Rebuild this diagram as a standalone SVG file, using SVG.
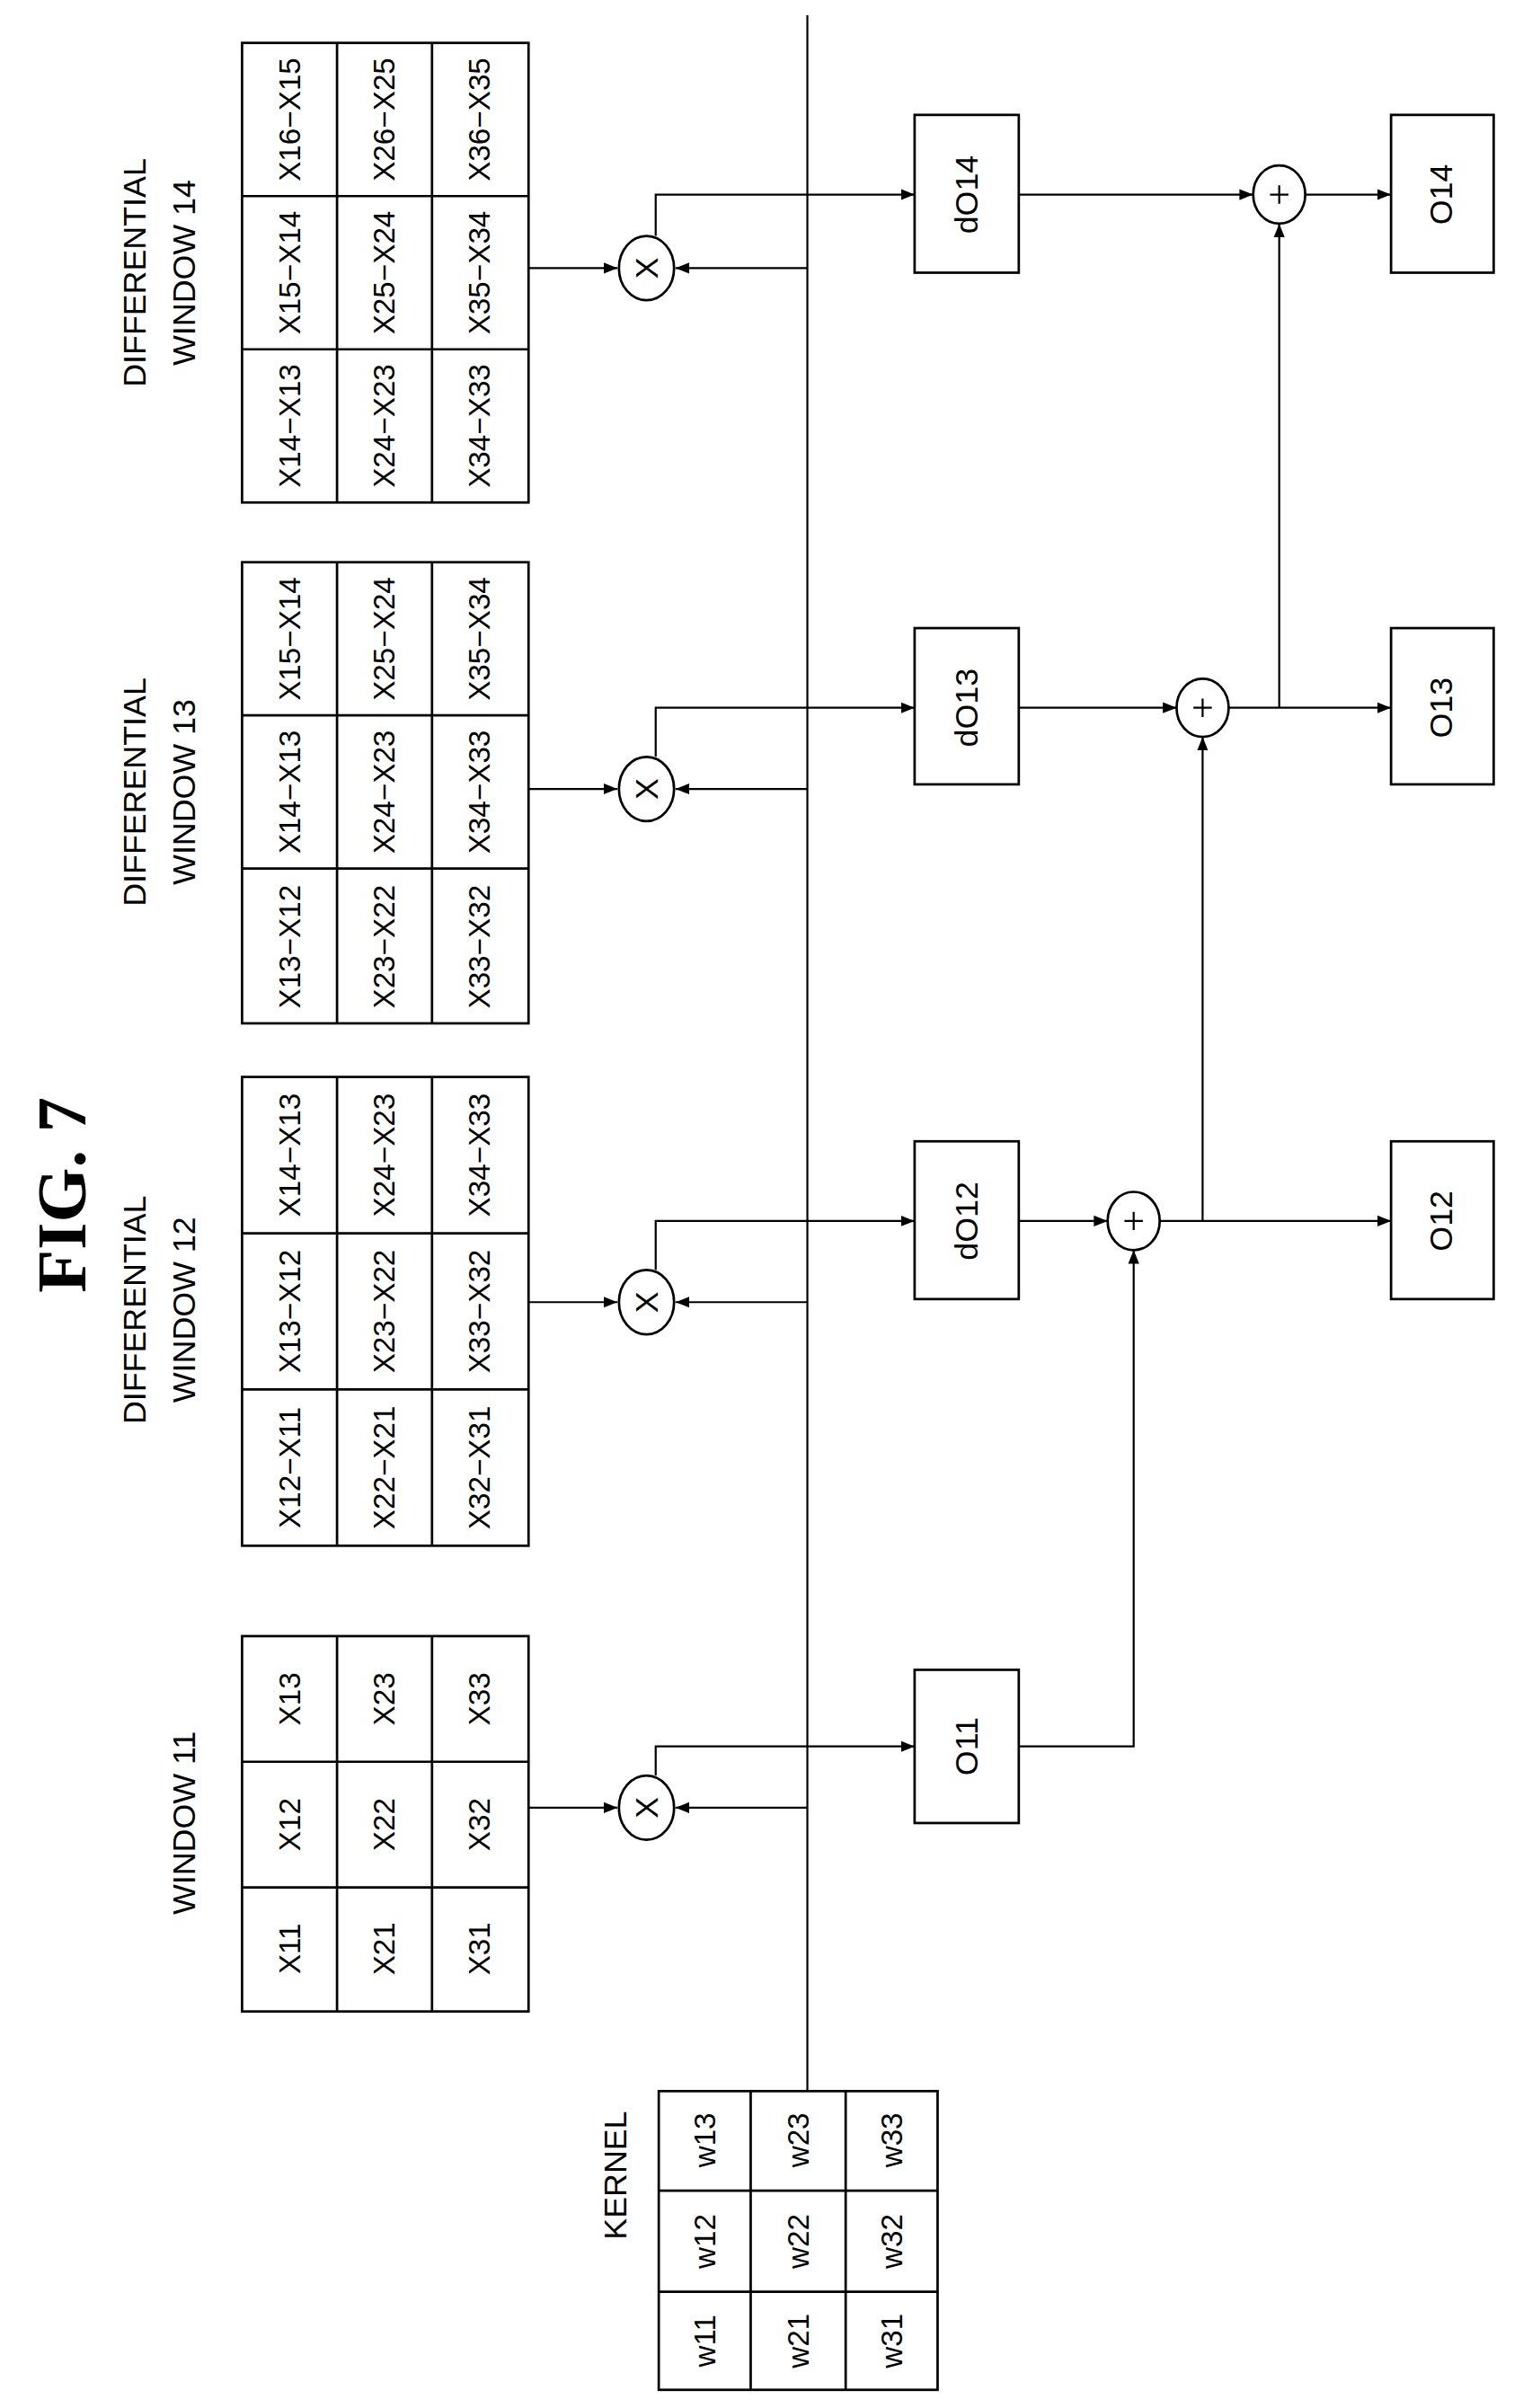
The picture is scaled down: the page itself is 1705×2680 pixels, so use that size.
<svg xmlns="http://www.w3.org/2000/svg" width="1705" height="2680" viewBox="0 0 1705 2680">
<style>
.b{fill:none;stroke:#000;stroke-width:1.6}
.c{fill:none;stroke:#000;stroke-width:1.3}
.t{font-family:"Liberation Sans",Arial,sans-serif;font-size:19.5px;text-anchor:middle;dominant-baseline:central}
.l{font-family:"Liberation Sans",Arial,sans-serif;font-size:21px;text-anchor:middle;dominant-baseline:central}
.f{font-family:"Liberation Serif","Times New Roman",serif;font-size:46px;font-weight:bold;text-anchor:middle;dominant-baseline:central}
</style>
<defs>
<marker id="a" viewBox="0 0 10 10" refX="10" refY="5" markerWidth="9" markerHeight="9" markerUnits="userSpaceOnUse" orient="auto"><path d="M0,1 L10,5 L0,9 Z" fill="#000"/></marker>
</defs>
<rect width="1705" height="2680" fill="#fff"/>
<g transform="scale(1.705)">
<text class="f" transform="translate(40,780) rotate(-90)">FIG. 7</text>

<g id="kernel">
<rect class="b" x="430" y="1365" width="182" height="195"/>
<path class="b" d="M490,1365V1560M552,1365V1560M430,1430H612M430,1496H612"/>
<text class="l" transform="translate(402,1420) rotate(-90)">KERNEL</text>
<g class="t">
<text transform="translate(460,1528) rotate(-90)">w11</text><text transform="translate(460,1463) rotate(-90)">w12</text><text transform="translate(460,1397) rotate(-90)">w13</text>
<text transform="translate(521,1528) rotate(-90)">w21</text><text transform="translate(521,1463) rotate(-90)">w22</text><text transform="translate(521,1397) rotate(-90)">w23</text>
<text transform="translate(582,1528) rotate(-90)">w31</text><text transform="translate(582,1463) rotate(-90)">w32</text><text transform="translate(582,1397) rotate(-90)">w33</text>
</g>
</g>

<g id="window11">
<rect class="b" x="158" y="1068" width="187" height="245"/>
<path class="b" d="M220,1068V1313M282,1068V1313M158,1150H345M158,1232H345"/>
<text class="l" transform="translate(120,1190) rotate(-90)">WINDOW 11</text>
<g class="t">
<text transform="translate(189,1272) rotate(-90)">X11</text><text transform="translate(189,1191) rotate(-90)">X12</text><text transform="translate(189,1109) rotate(-90)">X13</text>
<text transform="translate(251,1272) rotate(-90)">X21</text><text transform="translate(251,1191) rotate(-90)">X22</text><text transform="translate(251,1109) rotate(-90)">X23</text>
<text transform="translate(313,1272) rotate(-90)">X31</text><text transform="translate(313,1191) rotate(-90)">X32</text><text transform="translate(313,1109) rotate(-90)">X33</text>
</g>
</g>

<g id="window12">
<rect class="b" x="158" y="703" width="187" height="306"/>
<path class="b" d="M220,703V1009M282,703V1009M158,805H345M158,907H345"/>
<text class="l" transform="translate(88,855) rotate(-90)">DIFFERENTIAL</text>
<text class="l" transform="translate(120,855) rotate(-90)">WINDOW 12</text>
<g class="t">
<text transform="translate(189,958) rotate(-90)">X12−X11</text><text transform="translate(189,856) rotate(-90)">X13−X12</text><text transform="translate(189,754) rotate(-90)">X14−X13</text>
<text transform="translate(251,958) rotate(-90)">X22−X21</text><text transform="translate(251,856) rotate(-90)">X23−X22</text><text transform="translate(251,754) rotate(-90)">X24−X23</text>
<text transform="translate(313,958) rotate(-90)">X32−X31</text><text transform="translate(313,856) rotate(-90)">X33−X32</text><text transform="translate(313,754) rotate(-90)">X34−X33</text>
</g>
</g>

<g id="window13">
<rect class="b" x="158" y="367" width="187" height="301"/>
<path class="b" d="M220,367V668M282,367V668M158,467H345M158,567H345"/>
<text class="l" transform="translate(88,517) rotate(-90)">DIFFERENTIAL</text>
<text class="l" transform="translate(120,517) rotate(-90)">WINDOW 13</text>
<g class="t">
<text transform="translate(189,618) rotate(-90)">X13−X12</text><text transform="translate(189,517) rotate(-90)">X14−X13</text><text transform="translate(189,417) rotate(-90)">X15−X14</text>
<text transform="translate(251,618) rotate(-90)">X23−X22</text><text transform="translate(251,517) rotate(-90)">X24−X23</text><text transform="translate(251,417) rotate(-90)">X25−X24</text>
<text transform="translate(313,618) rotate(-90)">X33−X32</text><text transform="translate(313,517) rotate(-90)">X34−X33</text><text transform="translate(313,417) rotate(-90)">X35−X34</text>
</g>
</g>

<g id="window14">
<rect class="b" x="158" y="28" width="187" height="300"/>
<path class="b" d="M220,28V328M282,28V328M158,128H345M158,228H345"/>
<text class="l" transform="translate(88,178) rotate(-90)">DIFFERENTIAL</text>
<text class="l" transform="translate(120,178) rotate(-90)">WINDOW 14</text>
<g class="t">
<text transform="translate(189,278) rotate(-90)">X14−X13</text><text transform="translate(189,178) rotate(-90)">X15−X14</text><text transform="translate(189,78) rotate(-90)">X16−X15</text>
<text transform="translate(251,278) rotate(-90)">X24−X23</text><text transform="translate(251,178) rotate(-90)">X25−X24</text><text transform="translate(251,78) rotate(-90)">X26−X25</text>
<text transform="translate(313,278) rotate(-90)">X34−X33</text><text transform="translate(313,178) rotate(-90)">X35−X34</text><text transform="translate(313,78) rotate(-90)">X36−X35</text>
</g>
</g>

<g id="mult">
<ellipse class="b" cx="422" cy="1180" rx="18" ry="21"/><text class="l" transform="translate(422,1180) rotate(-90)">X</text>
<ellipse class="b" cx="422" cy="850" rx="18" ry="21"/><text class="l" transform="translate(422,850) rotate(-90)">X</text>
<ellipse class="b" cx="422" cy="515" rx="18" ry="21"/><text class="l" transform="translate(422,515) rotate(-90)">X</text>
<ellipse class="b" cx="422" cy="175" rx="18" ry="21"/><text class="l" transform="translate(422,175) rotate(-90)">X</text>
</g>

<g id="boxes">
<rect class="b" x="597" y="1090" width="68" height="100"/><text class="l" transform="translate(631,1140) rotate(-90)">O11</text>
<rect class="b" x="597" y="745" width="68" height="103"/><text class="l" transform="translate(631,797) rotate(-90)">dO12</text>
<rect class="b" x="597" y="410" width="68" height="102"/><text class="l" transform="translate(631,462) rotate(-90)">dO13</text>
<rect class="b" x="597" y="75" width="68" height="103"/><text class="l" transform="translate(631,127) rotate(-90)">dO14</text>
<rect class="b" x="908" y="745" width="67" height="103"/><text class="l" transform="translate(941,797) rotate(-90)">O12</text>
<rect class="b" x="908" y="410" width="67" height="102"/><text class="l" transform="translate(941,462) rotate(-90)">O13</text>
<rect class="b" x="908" y="75" width="67" height="103"/><text class="l" transform="translate(941,127) rotate(-90)">O14</text>
</g>

<g id="adders">
<ellipse class="b" cx="740" cy="797" rx="17" ry="19"/><path class="c" d="M734,797H746M740,791V803"/>
<ellipse class="b" cx="785" cy="462" rx="17" ry="19"/><path class="c" d="M779,462H791M785,456V468"/>
<ellipse class="b" cx="835" cy="127" rx="17" ry="19"/><path class="c" d="M829,127H841M835,121V133"/>
</g>

<g id="connectors" class="c">
<path d="M527,10V1365"/>
<path d="M345,1180H403" marker-end="url(#a)"/><path d="M527,1180H441" marker-end="url(#a)"/>
<path d="M345,850H403" marker-end="url(#a)"/><path d="M527,850H441" marker-end="url(#a)"/>
<path d="M345,515H403" marker-end="url(#a)"/><path d="M527,515H441" marker-end="url(#a)"/>
<path d="M345,175H403" marker-end="url(#a)"/><path d="M527,175H441" marker-end="url(#a)"/>
<path d="M428,1159V1140H597" marker-end="url(#a)"/>
<path d="M428,829V797H597" marker-end="url(#a)"/>
<path d="M428,494V462H597" marker-end="url(#a)"/>
<path d="M428,154V127H597" marker-end="url(#a)"/>
<path d="M665,1140H740V816" marker-end="url(#a)"/>
<path d="M665,797H723" marker-end="url(#a)"/>
<path d="M757,797H908" marker-end="url(#a)"/>
<path d="M785,797V481" marker-end="url(#a)"/>
<path d="M665,462H768" marker-end="url(#a)"/>
<path d="M802,462H908" marker-end="url(#a)"/>
<path d="M835,462V146" marker-end="url(#a)"/>
<path d="M665,127H818" marker-end="url(#a)"/>
<path d="M852,127H908" marker-end="url(#a)"/>
</g>
</g>
</svg>
